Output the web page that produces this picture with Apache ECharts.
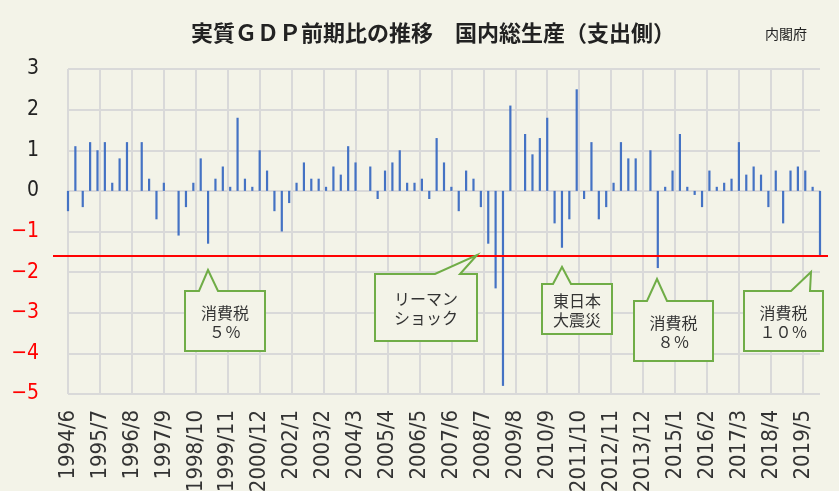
<!DOCTYPE html>
<html>
<head>
<meta charset="utf-8">
<script src="https://cdn.jsdelivr.net/npm/echarts@6/dist/echarts.min.js"></script>
<style>
  html, body { margin: 0; padding: 0; background: #f3f3e8; }
  #chart { width: 839px; height: 491px; }
</style>
</head>
<body>
<div id="chart"></div>
<script>
// 実質GDP 前期比(%) 四半期, 1994/6 〜 2019/12
const growth1990s = [-0.5, 1.1, -0.4, 1.2, 1.0, 1.2, 0.2, 0.8, 1.2, 0, 1.2, 0.3, -0.7, 0.2, 0, -1.1, -0.4, 0.2, 0.8, -1.3, 0.3, 0.6, 0.1];
const growth2000s = [1.8, 0.3, 0.1, 1.0, 0.5, -0.5, -1.0, -0.3, 0.2, 0.7, 0.3, 0.3, 0.1, 0.6, 0.4, 1.1, 0.7, 0, 0.6, -0.2,
  0.5, 0.7, 1.0, 0.2, 0.2, 0.3, -0.2, 1.3, 0.7, 0.1, -0.5, 0.5, 0.3, -0.4, -1.3, -2.4, -4.8, 2.1, 0, 1.4];
const growth2010s = [0.9, 1.3, 1.8, -0.8, -1.4, -0.7, 2.5, -0.2, 1.2, -0.7, -0.4, 0.2, 1.2, 0.8, 0.8, 0, 1.0, -1.9, 0.1, 0.5,
  1.4, 0.1, -0.1, -0.4, 0.5, 0.1, 0.2, 0.3, 1.2, 0.4, 0.6, 0.4, -0.4, 0.5, -0.8, 0.5, 0.6, 0.5, 0.1, -1.6];
const growth = [...growth1990s, ...growth2000s, ...growth2010s];

const startYear = 1994, startMonth = 6, endYear = 2019, endMonth = 12;
const redLineValue = -1.6;

// 注記(吹き出し)
const notes = [
  { lines: ['消費税', '５％'], box: [185, 291, 265, 351], ptr: [199, 208, 270, 218] },
  { lines: ['リーマン', 'ショック'], box: [375, 274, 477, 341], ptr: [435, 477, 255, 460] },
  { lines: ['東日本', '大震災'], box: [542, 284, 612, 334], ptr: [553, 562, 267, 571] },
  { lines: ['消費税', '８％'], box: [634, 301, 713, 361], ptr: [647, 657, 279, 667] },
  { lines: ['消費税', '１０％'], box: [744, 291, 823, 351], ptr: [791, 811, 272, 810] }
];

// 月単位のカテゴリ、データは四半期末月のみ
let months = [];
let y = startYear, m = startMonth;
while (y < endYear || (y == endYear && m <= endMonth)) {
  months.push(y + '/' + m);
  m++;
  if (m > 12) { m = 1; y++; }
}
let barData = months.map(a => null);
growth.forEach((v, i) => { barData[i * 3] = v; });

const bg = '#f3f3e8';
const numFont = '"Liberation Sans Narrow", "DejaVu Sans Condensed", sans-serif';
const jpFont = '"Noto Sans CJK JP", sans-serif';

let option = {
  backgroundColor: bg,
  animation: false,
  title: [
    {
      text: '実質ＧＤＰ前期比の推移　国内総生産（支出側）',
      left: 191, top: 22, padding: 0,
      textStyle: { fontFamily: jpFont, fontSize: 22, fontWeight: 'bold', color: '#222' }
    },
    {
      text: '内閣府',
      left: 765, top: 27, padding: 0,
      textStyle: { fontFamily: jpFont, fontSize: 14, fontWeight: 'normal', color: '#222' }
    }
  ],
  grid: { left: 68, right: 19, top: 69, bottom: 97, containLabel: false, outerBoundsMode: 'none' },
  xAxis: {
    type: 'category',
    data: months,
    boundaryGap: false,
    axisLine: { show: false },
    axisTick: { show: false },
    axisLabel: {
      interval: 12, rotate: 90, margin: 16,
      fontFamily: numFont, fontSize: 22, color: '#333'
    },
    splitLine: { show: true, interval: 12, lineStyle: { color: '#d9d9d9', width: 2 } }
  },
  yAxis: {
    type: 'value',
    min: -5, max: 3, interval: 1,
    axisLine: { show: false },
    axisTick: { show: false },
    axisLabel: {
      margin: 29,
      fontFamily: numFont, fontSize: 21,
      color: v => Number(v) < 0 ? '#ff0000' : '#222',
      formatter: v => v < 0 ? '\u2212' + Math.abs(v) : String(v)
    },
    splitLine: { lineStyle: { color: '#d9d9d9', width: 2 } }
  },
  series: [
    {
      type: 'bar',
      data: barData,
      barWidth: 2.2,
      clip: false,
      itemStyle: { color: '#4472c4' }
    }
  ]
};

let chart = echarts.init(document.getElementById('chart'));
chart.setOption(option);

// 赤線と吹き出し
let redY = chart.convertToPixel({ yAxisIndex: 0 }, redLineValue);
let graphics = [
  {
    type: 'line', z: 10,
    shape: { x1: 53, y1: redY, x2: 828, y2: redY },
    style: { stroke: '#ff0000', lineWidth: 2 }
  }
];
for (let n of notes) {
  let [x1, y1, x2, y2] = n.box;
  let [pl, tx, ty, pr] = n.ptr;
  graphics.push({
    type: 'polygon', z: 20,
    shape: { points: [[x1, y1], [pl, y1], [tx, ty], [pr, y1], [x2, y1], [x2, y2], [x1, y2]] },
    style: { fill: bg, stroke: '#70ad47', lineWidth: 2 }
  });
  graphics.push({
    type: 'text', z: 21,
    x: (x1 + x2) / 2, y: (y1 + y2) / 2 + 1,
    style: {
      text: n.lines.join('\n'),
      font: '16px ' + jpFont,
      fill: '#333',
      align: 'center', verticalAlign: 'middle',
      lineHeight: 19
    }
  });
}
chart.setOption({ graphic: graphics });
</script>
</body>
</html>
